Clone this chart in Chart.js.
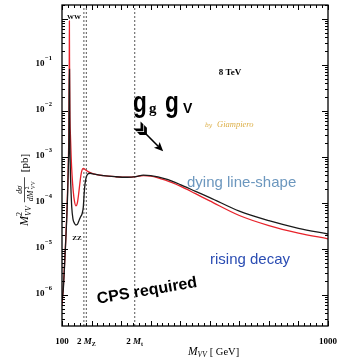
<!DOCTYPE html>
<html>
<head>
<meta charset="utf-8">
<script src="https://cdn.jsdelivr.net/npm/chart.js@4.4.0/dist/chart.umd.min.js"></script>
<style>
  html, body { margin: 0; padding: 0; background: #fff; }
  #wrap { width: 337px; height: 358px; position: relative; }
</style>
</head>
<body>
<div id="wrap"><canvas id="lineShape"></canvas></div>
<script>
// values (mass in GeV, M^2 dsigma/dM^2 in pb)
const redMass = [100, 104, 108, 112, 116, 119, 121.5, 123.5, 124.6, 125, 125.4, 126.5, 128.5, 131, 134, 138, 142, 147, 152, 156, 160, 164, 168, 172, 178, 190, 210, 240, 280, 320, 350, 375, 400, 450, 500, 550, 600, 700, 800, 900, 1000];
const redValue = [6e-7, 1.3e-6, 4e-6, 1.3e-5, 5e-5, 2e-4, 8e-4, 6e-3, 0.15, 0.9, 0.15, 1e-2, 3e-3, 1e-3, 4e-4, 1.8e-4, 1.1e-4, 8.6e-5, 1.0e-4, 1.5e-4, 2.5e-4, 4.0e-4, 5.2e-4, 5.6e-4, 5.3e-4, 4.7e-4, 4.2e-4, 3.9e-4, 3.7e-4, 3.6e-4, 3.7e-4, 3.9e-4, 3.8e-4, 3.1e-4, 2.3e-4, 1.6e-4, 1.1e-4, 5.3e-5, 3.2e-5, 2.2e-5, 1.65e-5];

const blackMass = [100, 104, 108, 112, 116, 119, 121.5, 123.5, 124.6, 125.4, 126.5, 128, 130, 133, 137, 142, 147, 152, 158, 163, 168, 172, 175, 178, 182, 187, 195, 210, 240, 280, 320, 350, 375, 400, 450, 500, 550, 600, 700, 800, 900, 1000];
const blackValue = [8e-7, 1.2e-6, 3.5e-6, 1.2e-5, 4.5e-5, 1.5e-4, 6e-4, 3e-3, 0.08, 0.08, 3e-3, 6e-4, 2.2e-4, 8e-5, 4.5e-5, 3.6e-5, 3.3e-5, 3.4e-5, 4.2e-5, 5e-5, 5.8e-5, 8e-5, 1.6e-4, 2.6e-4, 3.6e-4, 4.2e-4, 4.4e-4, 4.2e-4, 3.9e-4, 3.7e-4, 3.6e-4, 3.7e-4, 4.0e-4, 3.9e-4, 3.3e-4, 2.5e-4, 1.8e-4, 1.3e-4, 6.6e-5, 4.1e-5, 2.8e-5, 2.1e-5];

// thresholds (dashed lines)
const thresholdMass = [174, 182.4, 346];

// axis ticks
const xTickValues = [100, 182.4, 346, 1000];
const xTickMain = ['100', '2 ', '2 ', '1000'];
const xTickItalic = ['', 'M', 'M', ''];
const xTickSub = ['', 'Z', 't', ''];
const yTickPowers = [-1, -2, -3, -4, -5, -6];

const xMin = 100, xMax = 1000;
const yMin = 2.1e-7, yMax = 2.0;

const SERIF = '"DejaVu Serif", "Liberation Serif", serif';
const SERIF2 = '"Liberation Serif", "DejaVu Serif", serif';
const SANS = '"Liberation Sans", Arial, sans-serif';

const toPoints = (xs, ys) => xs.map((m, i) => ({ x: m, y: ys[i] }));

const thresholdSets = thresholdMass.map(m => ({
  data: [{ x: m, y: yMin }, { x: m, y: yMax }],
  borderColor: '#666',
  borderWidth: 1.1,
  borderDash: [2, 2],
  pointRadius: 0,
  tension: 0
}));

// frame, inward ticks, labels and text
const decorations = {
  id: 'decorations',
  afterDraw(chart) {
    const { ctx, chartArea: a, scales: { x, y } } = chart;
    ctx.save();

    const seg = (x1, y1, x2, y2) => {
      ctx.beginPath(); ctx.moveTo(x1, y1); ctx.lineTo(x2, y2); ctx.stroke();
    };

    ctx.strokeStyle = '#000';
    ctx.lineWidth = 1;
    // x ticks every 20 GeV
    for (let m = xMin; m <= xMax; m += 20) {
      const px = Math.round(x.getPixelForValue(m)) + 0.5;
      const len = m % 100 === 0 ? 5 : 3;
      seg(px, a.bottom, px, a.bottom - len);
      seg(px, a.top, px, a.top + len);
    }
    // y ticks, log minor
    for (let e = -7; e <= 0; e++) {
      for (let k = 1; k <= 9; k++) {
        const v = k * Math.pow(10, e);
        if (v < yMin || v > yMax) continue;
        const py = Math.round(y.getPixelForValue(v)) + 0.5;
        const len = k === 1 ? 6 : 3;
        seg(a.left, py, a.left + len, py);
        seg(a.right, py, a.right - len, py);
      }
    }
    ctx.lineWidth = 1.3;
    ctx.strokeRect(a.left, a.top, a.right - a.left, a.bottom - a.top);

    ctx.fillStyle = '#000';
    ctx.textBaseline = 'alphabetic';

    // y tick labels 10^-n
    yTickPowers.forEach(p => {
      const py = y.getPixelForValue(Math.pow(10, p));
      ctx.font = 'bold 6.5px ' + SERIF2;
      ctx.textAlign = 'right';
      const exp = '\u2212' + Math.abs(p);
      const ew = ctx.measureText(exp).width;
      ctx.fillText(exp, 52, py - 5);
      ctx.font = 'bold 9px ' + SERIF2;
      ctx.fillText('10', 52 - ew - 0.5, py + 1);
    });

    // x tick labels
    xTickValues.forEach((v, i) => {
      const px = x.getPixelForValue(v);
      ctx.font = 'bold 9px ' + SERIF2;
      const w1 = ctx.measureText(xTickMain[i]).width;
      ctx.font = 'bold italic 9px ' + SERIF2;
      const w2 = ctx.measureText(xTickItalic[i]).width;
      ctx.font = 'bold 6px ' + SERIF2;
      const w3 = ctx.measureText(xTickSub[i]).width;
      let cx = px - (w1 + w2 + w3) / 2;
      const by = 344;
      ctx.textAlign = 'left';
      ctx.font = 'bold 9px ' + SERIF2;
      ctx.fillText(xTickMain[i], cx, by); cx += w1;
      ctx.font = 'bold italic 9px ' + SERIF2;
      ctx.fillText(xTickItalic[i], cx, by); cx += w2;
      ctx.font = 'bold 6px ' + SERIF2;
      ctx.fillText(xTickSub[i], cx, by + 2);
    });

    // x axis title
    ctx.textAlign = 'left';
    ctx.font = 'italic 11.5px ' + SERIF2;
    let tx = 188;
    ctx.fillText('M', tx, 355); tx += ctx.measureText('M').width;
    ctx.font = 'italic 7.5px ' + SERIF2;
    ctx.fillText('VV', tx, 357); tx += ctx.measureText('VV').width + 3;
    ctx.font = '10.5px ' + SERIF2;
    ctx.fillText('[ GeV]', tx, 355);

    // y axis title (rotated)
    ctx.save();
    ctx.translate(28, 226);
    ctx.rotate(-Math.PI / 2);
    let ty = 0;
    ctx.font = 'italic 12px ' + SERIF2;
    ctx.fillText('M', ty, 0); ty += ctx.measureText('M').width;
    ctx.font = '8px ' + SERIF2;
    ctx.fillText('2', ty, -6);
    ctx.font = 'italic 8px ' + SERIF2;
    ctx.fillText('VV', ty, 3); ty += ctx.measureText('VV').width + 4;
    // fraction d sigma / d M^2_VV
    ctx.font = 'italic 8px ' + SERIF2;
    const fracW = 25;
    ctx.textAlign = 'center';
    ctx.fillText('d\u03c3', ty + fracW / 2, -6);
    ctx.fillRect(ty, -4, fracW, 0.7);
    ctx.textAlign = 'left';
    ctx.fillText('dM', ty + 1, 4.5);
    ctx.font = '5.5px ' + SERIF2;
    ctx.fillText('2', ty + 13, 0.5);
    ctx.fillText('VV', ty + 13, 6.5);
    ty += fracW + 5;
    ctx.font = '11px ' + SERIF2;
    ctx.fillText('[pb]', ty, 0);
    ctx.restore();

    // resonance labels
    ctx.textAlign = 'center';
    ctx.font = 'bold 7px ' + SERIF2;
    ctx.fillText('WW', 74, 19);
    ctx.fillText('ZZ', 77, 240);

    ctx.font = 'bold 9px ' + SERIF2;
    ctx.fillText('8 TeV', 230, 75);

    // g_g g_V
    ctx.textAlign = 'left';
    const bigG = (gx) => {
      ctx.save();
      ctx.translate(gx, 112);
      ctx.scale(0.78, 1);
      ctx.font = 'bold 29px ' + SANS;
      ctx.fillText('g', 0, 0);
      ctx.restore();
    };
    bigG(133);
    ctx.font = 'bold 15px ' + SERIF2;
    ctx.fillText('g', 149, 113);
    bigG(165);
    ctx.font = 'bold 14px ' + SANS;
    ctx.fillText('V', 183, 113);

    // feathered arrow pointing down-right
    const d = [Math.SQRT1_2, Math.SQRT1_2];
    const q = [Math.SQRT1_2, -Math.SQRT1_2];
    const pt = (u, v) => [137 + u * d[0] + v * q[0], 125 + u * d[1] + v * q[1]];
    const poly = (list) => {
      ctx.beginPath();
      list.forEach(([u, v], i) => {
        const [px, py] = pt(u, v);
        if (i === 0) ctx.moveTo(px, py); else ctx.lineTo(px, py);
      });
      ctx.closePath(); ctx.fill();
    };
    poly([[0, -5], [4, -5], [9, 0], [4, 5], [0, 5], [5, 0]]);
    poly([[5, -5], [9, -5], [14, 0], [9, 5], [5, 5], [10, 0]]);
    ctx.strokeStyle = '#000';
    ctx.lineWidth = 1.6;
    const s0 = pt(12, 0), s1 = pt(30, 0);
    seg(s0[0], s0[1], s1[0], s1[1]);
    poly([[37, 0], [28, -4], [30, 0], [28, 4]]);

    // signature
    ctx.fillStyle = '#dcae45';
    ctx.font = 'italic 6px ' + SERIF;
    ctx.fillText('by', 205, 127);
    ctx.font = 'italic 8.5px ' + SERIF2;
    ctx.fillText('Giampiero', 217, 127);

    // annotations
    ctx.font = '15px ' + SANS;
    ctx.fillStyle = '#6c97be';
    ctx.fillText('dying line-shape', 187, 187);
    ctx.fillStyle = '#2b4db3';
    ctx.fillText('rising decay', 210, 264);

    ctx.save();
    ctx.translate(147, 291);
    ctx.rotate(-9.5 * Math.PI / 180);
    ctx.fillStyle = '#000';
    ctx.font = 'bold 16px ' + SANS;
    ctx.textAlign = 'center';
    ctx.textBaseline = 'middle';
    ctx.fillText('CPS required', 0, 0);
    ctx.restore();

    ctx.restore();
  }
};

new Chart(document.getElementById('lineShape'), {
  type: 'line',
  data: {
    datasets: [
      {
        label: 'black',
        data: toPoints(blackMass, blackValue),
        borderColor: '#1a1a1a',
        borderWidth: 1.3,
        pointRadius: 0,
        cubicInterpolationMode: 'monotone'
      },
      {
        label: 'red',
        data: toPoints(redMass, redValue),
        borderColor: '#e8232b',
        borderWidth: 1.3,
        pointRadius: 0,
        cubicInterpolationMode: 'monotone'
      },
      ...thresholdSets
    ]
  },
  options: {
    responsive: true,
    maintainAspectRatio: false,
    animation: false,
    layout: { padding: { left: 62, right: 9, top: 5, bottom: 32 } },
    plugins: { legend: { display: false }, tooltip: { enabled: false } },
    scales: {
      x: { type: 'linear', min: xMin, max: xMax, display: false },
      y: { type: 'logarithmic', min: yMin, max: yMax, display: false }
    }
  },
  plugins: [decorations]
});
</script>
</body>
</html>
